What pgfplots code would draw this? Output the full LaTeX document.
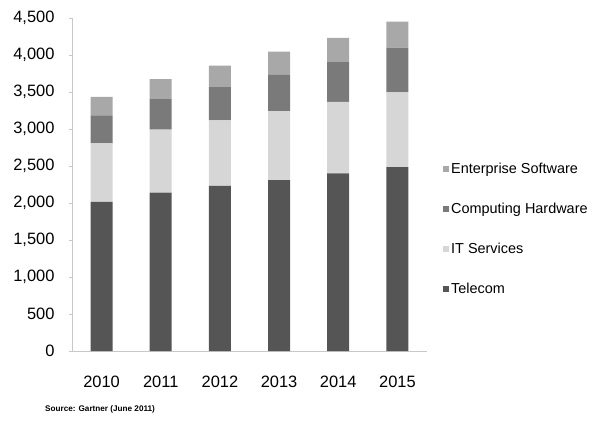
\documentclass[border=0pt]{standalone}
\usepackage{pgfplots}
\pgfplotsset{compat=1.18}
\usepackage{fontspec}
\setmainfont{Liberation Sans}
\definecolor{cTel}{HTML}{555555}
\definecolor{cIT}{HTML}{D6D6D6}
\definecolor{cCH}{HTML}{7A7A7A}
\definecolor{cES}{HTML}{A8A8A8}
\definecolor{axgray}{HTML}{C8C8C8}
\begin{document}
\begin{tikzpicture}[x=1bp,y=1bp]
\useasboundingbox (-72bp,-72bp) rectangle (521bp,351bp);
\begin{axis}[
  at={(0,0)}, anchor=south west,
  scale only axis, width=355bp, height=333bp,
  ybar stacked, bar width=22bp,
  xmin=-0.5, xmax=5.5, ymin=0, ymax=4500,
  xtick={0,1,2,3,4,5},
  xticklabels={2010,2011,2012,2013,2014,2015},
  extra x ticks={-0.5,0.5,1.5,2.5,3.5,4.5,5.5},
  extra x tick labels={},
  extra x tick style={major tick length=4bp, tick style={axgray}},
  ytick={0,500,...,4500},
  axis x line*=bottom, axis y line*=left,
  axis line style={axgray, line width=0.6bp, -},
  x axis line style={shorten <=-3bp},
  major x tick style={draw=none},
  major y tick style={axgray},
  major tick length=3bp,
  tick align=outside,
  /pgf/number format/1000 sep={,},
  /pgf/number format/assume math mode=true,
  ticklabel style={font=\fontsize{16.5}{18}\selectfont, text=black},
  yticklabel style={xshift=-11bp},
  xticklabel style={yshift=-19bp},
  legend style={at={(rel axis cs:1.045,0.571)}, anchor=north west, draw=none,
    fill=none, font=\fontsize{14.5}{16}\selectfont, row sep=24bp,
    cells={anchor=west}, inner sep=0pt},
  legend image code/.code={\fill[#1,draw=none] (0bp,-3bp) rectangle (6bp,3bp);},
  reverse legend,
  clip=false,
]
\addplot[fill=cTel, draw=none] coordinates {(0,2015) (1,2140) (2,2230) (3,2310) (4,2400) (5,2485)};
\addplot[fill=cIT, draw=none] coordinates {(0,790) (1,850) (2,885) (3,930) (4,965) (5,1010)};
\addplot[fill=cCH, draw=none] coordinates {(0,380) (1,415) (2,450) (3,490) (4,540) (5,605)};
\addplot[fill=cES, draw=none] coordinates {(0,250) (1,270) (2,290) (3,315) (4,325) (5,350)};
\legend{Telecom, IT Services, Computing Hardware, Enterprise Software}
\end{axis}
\node[anchor=west, font=\bfseries\fontsize{8.2}{9}\selectfont, inner sep=0pt] at (-27bp,-58bp) {Source: Gartner (June 2011)};
\end{tikzpicture}
\end{document}
